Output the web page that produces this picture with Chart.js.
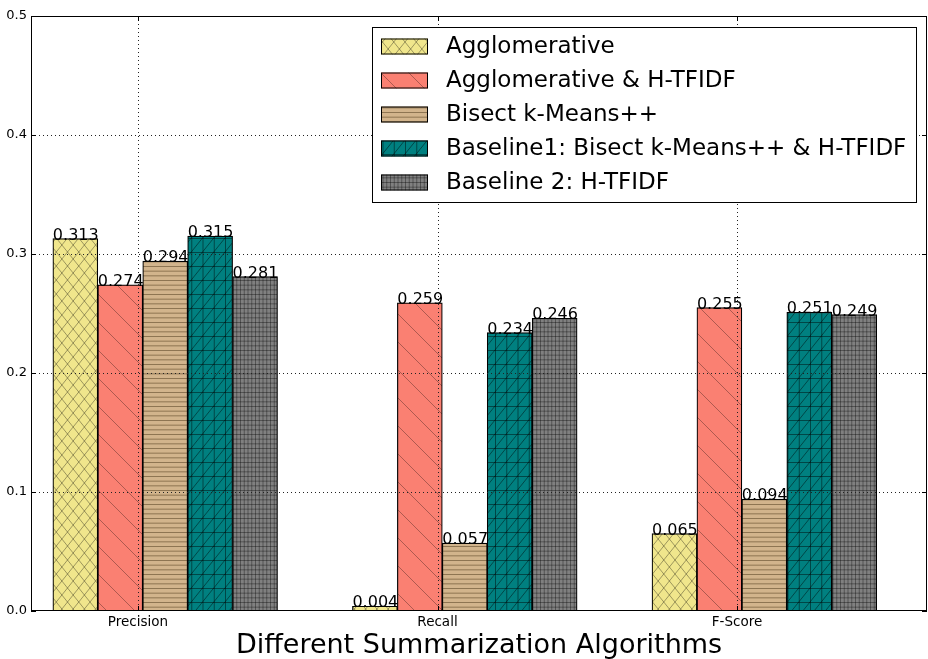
<!DOCTYPE html>
<html>
<head>
<meta charset="utf-8">
<script src="https://cdn.jsdelivr.net/npm/chart.js@4/dist/chart.umd.min.js"></script>
<style>
  html, body { margin: 0; padding: 0; background: #fff; }
  canvas { display: block; }
</style>
</head>
<body>
<canvas id="chart" width="928" height="659"></canvas>
<script>
// ---- data ----
const categories = ['Precision', 'Recall', 'F-Score'];
const seriesNames = [
  'Agglomerative',
  'Agglomerative & H-TFIDF',
  'Bisect k-Means++',
  'Baseline1: Bisect k-Means++ & H-TFIDF',
  'Baseline 2: H-TFIDF'
];
const agglomerative       = [0.313, 0.004, 0.065];
const agglomerativeHtfidf = [0.274, 0.259, 0.255];
const bisectKMeans        = [0.294, 0.057, 0.094];
const baseline1           = [0.315, 0.234, 0.251];
const baseline2           = [0.281, 0.246, 0.249];
const yTickValues = [0, 0.1, 0.2, 0.3, 0.4, 0.5];
const xTitle = 'Different Summarization Algorithms';

// ---- layout (x measured in category units, tick of each category at its index) ----
const BAR_W = 0.15;          // width of one bar
const GROUP_START = -0.284;  // left edge of a group relative to its tick
const X_MIN = -0.357, X_MAX = 2.634;
const FONT = '"DejaVu Sans", sans-serif';

// ---- hatch patterns ----
function line(g, x1, y1, x2, y2) {
  g.beginPath(); g.moveTo(x1, y1); g.lineTo(x2, y2); g.stroke();
}
function makePattern(w, h, fill, stroke, draw) {
  const c = document.createElement('canvas');
  c.width = w; c.height = h;
  const g = c.getContext('2d');
  g.fillStyle = fill; g.fillRect(0, 0, w, h);
  g.strokeStyle = stroke; g.lineWidth = 1;
  draw(g, w, h);
  return g.createPattern(c, 'repeat');
}
const CW = 11.25, CH = 14; // hatch cell
const patterns = [
  // crossed diagonals
  makePattern(45, 56, '#F0E68C', 'rgba(0,0,0,0.35)', (g, w, h) => {
    for (let k = -5; k <= 5; k++) {
      const x0 = k * CW;
      line(g, x0, 0, x0 + w, h);
      line(g, x0, h, x0 + w, 0);
    }
  }),
  // sparse back-slashes
  makePattern(28, 28, '#FA8072', 'rgba(0,0,0,0.3)', (g, w, h) => {
    for (let k = -1; k <= 1; k++) line(g, k * w - 1, -1, k * w + w + 1, h + 1);
  }),
  // dense horizontal lines
  makePattern(45, 56, '#D2B48C', 'rgba(60,40,10,0.45)', (g, w, h) => {
    for (let k = 0; k < 12; k++) line(g, 0, k * h / 12 + 0.5, w, k * h / 12 + 0.5);
  }),
  // grid with forward slashes
  makePattern(45, 56, '#008080', 'rgba(0,0,0,0.45)', (g, w, h) => {
    for (let k = 0; k < 4; k++) {
      line(g, k * CW + 0.5, 0, k * CW + 0.5, h);
      line(g, 0, k * CH + 0.5, w, k * CH + 0.5);
    }
    for (let k = -5; k <= 5; k++) line(g, k * CW, h, k * CW + w, 0);
  }),
  // dense grid
  makePattern(45, 56, '#808080', 'rgba(0,0,0,0.35)', (g, w, h) => {
    for (let k = 0; k < 12; k++) {
      line(g, k * w / 12 + 0.5, 0, k * w / 12 + 0.5, h);
      line(g, 0, k * h / 12 + 0.5, w, k * h / 12 + 0.5);
    }
  })
];

const seriesValues = [agglomerative, agglomerativeHtfidf, bisectKMeans, baseline1, baseline2];
const datasets = seriesValues.map((vals, s) => ({
  label: seriesNames[s],
  data: vals.map((v, c) => ({ x: c + GROUP_START + BAR_W * (s + 0.5), y: v })),
  backgroundColor: patterns[s],
  borderColor: '#000',
  borderWidth: 1.2,
  borderSkipped: false,
  grouped: false,
  barPercentage: 1,
  categoryPercentage: 1
}));

// grid, frame, inward ticks, value labels and the boxed legend
const decorations = {
  id: 'decorations',
  afterDatasetsDraw(chart) {
    const { ctx, chartArea: a, scales: { x, y } } = chart;
    ctx.save();
    // dotted grid on top of the bars
    ctx.strokeStyle = '#222';
    ctx.lineWidth = 1;
    ctx.setLineDash([1, 3]);
    x.ticks.forEach(t => {
      const px = Math.round(x.getPixelForValue(t.value)) + 0.5;
      line(ctx, px, a.top, px, a.bottom);
    });
    y.ticks.forEach(t => {
      if (t.value <= 0 || t.value >= 0.5) return;
      const py = Math.round(y.getPixelForValue(t.value)) + 0.5;
      line(ctx, a.left, py, a.right, py);
    });
    ctx.setLineDash([]);
    // frame
    ctx.strokeStyle = '#000';
    ctx.strokeRect(a.left + 0.5, a.top + 0.5, a.right - a.left - 1, a.bottom - a.top - 1);
    // inward tick marks on all four sides
    const TL = 5;
    y.ticks.forEach(t => {
      const py = Math.round(y.getPixelForValue(t.value)) + 0.5;
      line(ctx, a.left, py, a.left + TL, py);
      line(ctx, a.right, py, a.right - TL, py);
    });
    x.ticks.forEach(t => {
      const px = Math.round(x.getPixelForValue(t.value)) + 0.5;
      line(ctx, px, a.bottom, px, a.bottom - TL);
      line(ctx, px, a.top, px, a.top + TL);
    });
    // value labels: left edge of the bar, sitting on its top
    ctx.fillStyle = '#000';
    ctx.font = '16px ' + FONT;
    ctx.textAlign = 'left';
    ctx.textBaseline = 'alphabetic';
    chart.data.datasets.forEach((ds, i) => {
      chart.getDatasetMeta(i).data.forEach((bar, j) => {
        const left = bar.x - bar.width / 2;
        ctx.fillText(ds.data[j].y.toFixed(3), left, bar.y + 1);
      });
    });
    // legend box
    const bx = 372.5, by = 27.5, bw = 544, bh = 175;
    ctx.fillStyle = '#fff';
    ctx.fillRect(bx, by, bw, bh);
    ctx.strokeStyle = '#000';
    ctx.strokeRect(bx, by, bw, bh);
    ctx.font = '23px ' + FONT;
    ctx.textBaseline = 'middle';
    chart.data.datasets.forEach((ds, i) => {
      const cy = 46.5 + i * 34;
      ctx.fillStyle = ds.backgroundColor;
      ctx.fillRect(381, cy - 8, 47, 16);
      ctx.strokeStyle = '#000';
      ctx.strokeRect(381.5, cy - 7.5, 46, 15);
      ctx.fillStyle = '#000';
      ctx.fillText(ds.label, 446, cy + 1);
    });
    ctx.restore();
  }
};

new Chart(document.getElementById('chart'), {
  type: 'bar',
  data: { datasets },
  options: {
    responsive: false,
    animation: false,
    devicePixelRatio: 1,
    layout: { padding: { top: 16, right: 1, left: 0, bottom: 0 } },
    plugins: { legend: { display: false }, tooltip: { enabled: false } },
    scales: {
      x: {
        type: 'linear',
        min: X_MIN, max: X_MAX,
        bounds: 'data',
        offset: false,
        afterBuildTicks: s => { s.ticks = categories.map((_, i) => ({ value: i })); },
        afterFit: s => { s.height = 48; },
        ticks: {
          autoSkip: false, maxRotation: 0, padding: 3, color: '#000',
          font: { family: FONT, size: 13.5 },
          callback: v => categories[Math.round(v)]
        },
        grid: { display: false, drawTicks: false },
        border: { display: false },
        title: {
          display: true, text: xTitle, color: '#000', padding: 0,
          font: { family: FONT, size: 27, lineHeight: 1 }
        }
      },
      y: {
        type: 'linear',
        min: 0, max: 0.5,
        afterBuildTicks: s => { s.ticks = yTickValues.map(v => ({ value: v })); },
        afterFit: s => { s.width = 31; },
        ticks: {
          padding: 4, color: '#000',
          font: { family: FONT, size: 13 },
          callback: v => v.toFixed(1)
        },
        grid: { display: false, drawTicks: false },
        border: { display: false }
      }
    }
  },
  plugins: [decorations]
});
</script>
</body>
</html>
